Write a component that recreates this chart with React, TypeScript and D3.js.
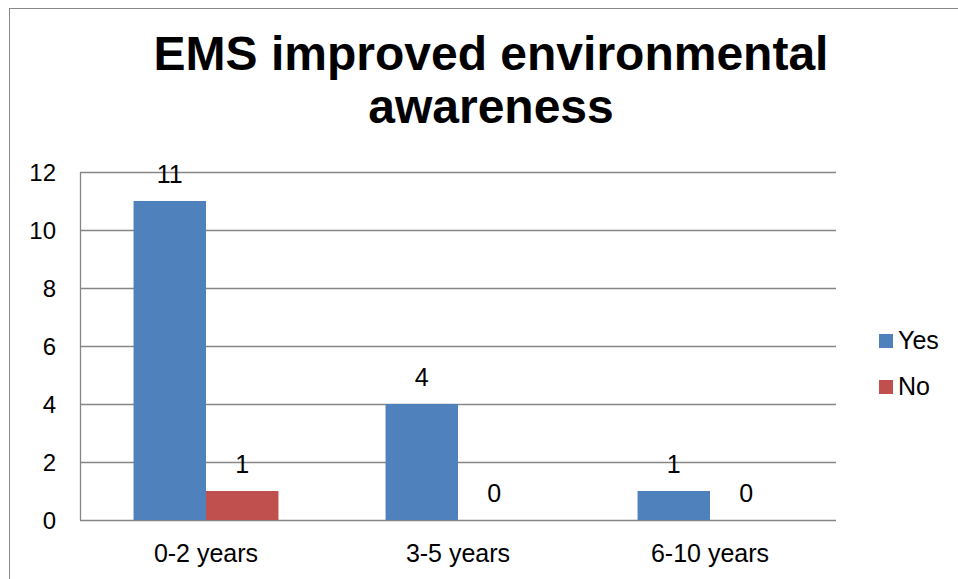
import * as d3 from "d3";
import React from "react";

// chart values
const categories = ["0-2 years", "3-5 years", "6-10 years"];
const seriesNames = ["Yes", "No"];
const yesValues = [11, 4, 1];
const noValues = [1, 0, 0];
const yTicks = [0, 2, 4, 6, 8, 10, 12];
const titleLines = ["EMS improved environmental", "awareness"];

const colors = ["#4F81BD", "#C0504D"];
const font = "'Liberation Sans', Arial, sans-serif";

const W = 958;
const H = 579;
const plot = { left: 80, right: 836, top: 172, bottom: 520 };

const App = () => {
  const seriesValues = [yesValues, noValues];

  const y = d3.scaleLinear().domain([0, 12]).range([plot.bottom, plot.top]);

  const x0 = d3
    .scaleBand()
    .domain(categories)
    .range([plot.left, plot.right])
    .paddingInner(0.425)
    .paddingOuter(0.2125);

  const x1 = d3.scaleBand().domain(seriesNames).range([0, x0.bandwidth()]);

  const bars = categories.flatMap((c, i) =>
    seriesNames.map((s, j) => ({ c, s, j, v: seriesValues[j][i] }))
  );

  return (
    <svg
      width={W}
      height={H}
      style={{ position: "absolute", left: 0, top: 0, background: "#fff" }}
    >
      <rect x={9.5} y={8.5} width={1200} height={1200} fill="#fff" stroke="#888" />

      {/* title */}
      <text
        x={491}
        textAnchor="middle"
        fontFamily={font}
        fontWeight="bold"
        fontSize={48}
        fill="#000"
      >
        {titleLines.map((t, i) => (
          <tspan key={t} x={491} y={70 + i * 53}>
            {t}
          </tspan>
        ))}
      </text>

      {/* gridlines */}
      {yTicks.map((t) => (
        <line
          key={t}
          x1={plot.left}
          x2={plot.right}
          y1={Math.round(y(t)) + 0.5}
          y2={Math.round(y(t)) + 0.5}
          stroke="#868686"
          strokeWidth={1.3}
        />
      ))}
      <line
        x1={plot.left + 0.5}
        x2={plot.left + 0.5}
        y1={y(12)}
        y2={y(0)}
        stroke="#868686"
        strokeWidth={1.3}
      />

      {/* y tick labels */}
      {yTicks.map((t) => (
        <text
          key={t}
          x={56}
          y={y(t) + 9}
          textAnchor="end"
          fontFamily={font}
          fontSize={24}
          fill="#000"
        >
          {t}
        </text>
      ))}

      {/* bars */}
      {bars.map((b) => (
        <rect
          key={b.c + b.s}
          x={(x0(b.c) ?? 0) + (x1(b.s) ?? 0)}
          y={y(b.v)}
          width={x1.bandwidth()}
          height={y(0) - y(b.v)}
          fill={colors[b.j]}
        />
      ))}

      {/* value labels */}
      {bars.map((b) => (
        <text
          key={"l" + b.c + b.s}
          x={(x0(b.c) ?? 0) + (x1(b.s) ?? 0) + x1.bandwidth() / 2}
          y={y(b.v) - 18}
          textAnchor="middle"
          fontFamily={font}
          fontSize={25}
          fill="#000"
        >
          {b.v}
        </text>
      ))}

      {/* category labels */}
      {categories.map((c) => (
        <text
          key={c}
          x={(x0(c) ?? 0) + x0.bandwidth() / 2}
          y={562}
          textAnchor="middle"
          fontFamily={font}
          fontSize={25}
          fill="#000"
        >
          {c}
        </text>
      ))}

      {/* legend */}
      {seriesNames.map((s, i) => (
        <g key={s} transform={`translate(879, ${334 + i * 46})`}>
          <rect width={14} height={14} fill={colors[i]} />
          <text x={19} y={15} fontFamily={font} fontSize={25} fill="#000">
            {s}
          </text>
        </g>
      ))}
    </svg>
  );
};

export default App;
